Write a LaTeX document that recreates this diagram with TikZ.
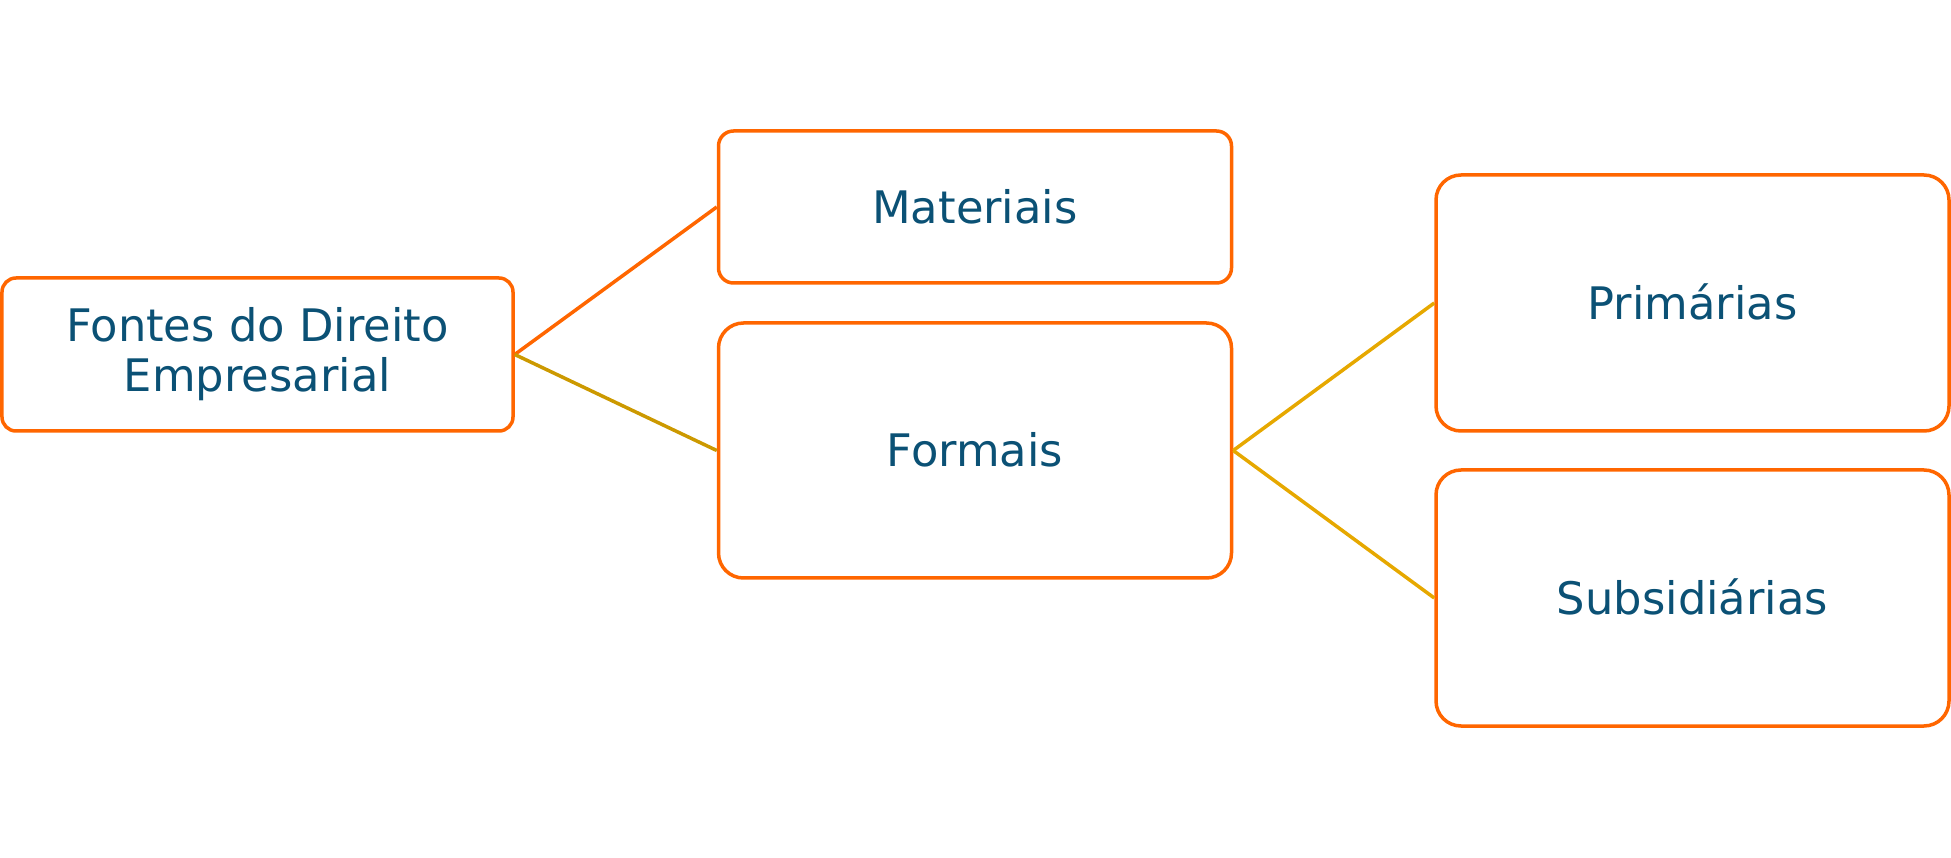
\documentclass[tikz,border=0pt]{standalone}
\usepackage{fontspec}
\setmainfont{DejaVu Sans}

\definecolor{boxorange}{HTML}{FF6600}
\definecolor{linegold}{HTML}{CC9900}
\definecolor{lineamber}{HTML}{E6A800}
\definecolor{textblue}{HTML}{0B5175}

\tikzset{
	fonte/.style={draw=boxorange, line width=0.07cm, fill=white, text=textblue,
		font=\fontsize{25.5}{28.5}\selectfont, align=center, inner sep=0pt,
		text height=0.66cm, text depth=0pt, minimum width=10.26cm},
	ligacao/.style={line width=0.07cm},
}

\begin{document}
\begin{tikzpicture}
		\useasboundingbox (0,0) rectangle (39.02,17.14);
		
		\node[fonte, rounded corners=0.28cm, minimum width=10.22cm, minimum height=3.06cm, text height={}, text depth={}] at (5.15,10.05) (raiz) {Fontes do Direito\\Empresarial};
		
		\node[fonte, rounded corners=0.3cm, minimum height=3.04cm] at (19.5,13.0) (mat) {Materiais};
		\node[fonte, rounded corners=0.5cm, minimum height=5.1cm] at (19.5,8.13) (form) {Formais};
		
		\node[fonte, rounded corners=0.5cm, minimum height=5.12cm] at (33.85,11.08) (prim) {Primárias};
		\node[fonte, rounded corners=0.5cm, minimum height=5.12cm] at (33.85,5.18) (subs) {Subsidiárias};
		
		\draw[ligacao, boxorange] (raiz.east) -- (mat.west);
		\draw[ligacao, linegold] (raiz.east) -- (form.west);
		\draw[ligacao, lineamber] (form.east) -- (prim.west);
		\draw[ligacao, lineamber] (form.east) -- (subs.west);
	\end{tikzpicture}
\end{document}
